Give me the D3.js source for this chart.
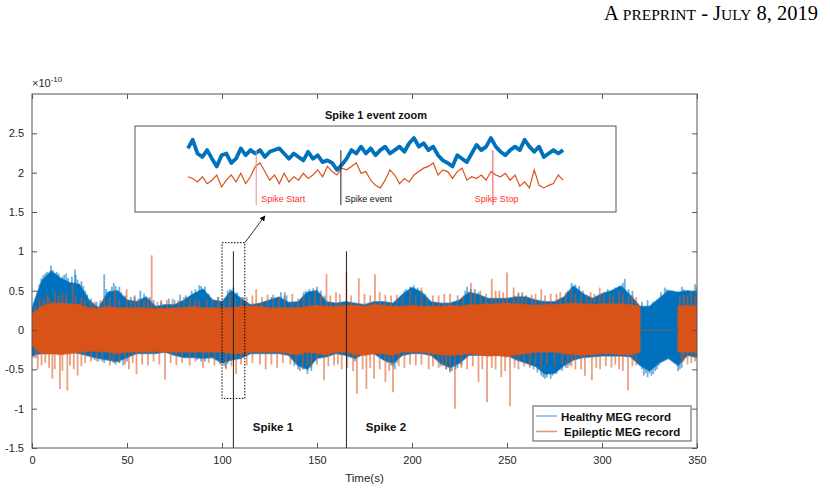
<!DOCTYPE html>
<html>
<head>
<meta charset="utf-8">
<script src="https://cdn.jsdelivr.net/npm/d3@7"></script>
<style>
body { margin: 0; background: #fff; }
text { font-family: "Liberation Sans", Arial, sans-serif; }
</style>
</head>
<body>
<svg id="plotSvg" width="830" height="490"></svg>
<script>
// ---- data (amplitudes in x1e-10) ----
const seriesNames = ["Healthy MEG record", "Epileptic MEG record"];

// envelope sampled every 5 s
const tGrid = [0,5,10,15,20,25,30,35,40,45,50,55,60,65,70,75,80,85,90,95,
    100,105,110,115,120,125,130,135,140,145,150,155,160,165,170,175,180,185,190,195,
    200,205,210,215,220,225,230,235,240,245,250,255,260,265,270,275,280,285,290,295,
    300,305,310,315,320,325,330,335,340,345,350];

const healthyHi = [0.28,0.62,0.75,0.66,0.6,0.58,0.38,0.28,0.48,0.5,
    0.38,0.36,0.42,0.3,0.32,0.32,0.38,0.46,0.52,0.38,
    0.36,0.5,0.4,0.32,0.34,0.38,0.42,0.35,0.36,0.48,
    0.5,0.36,0.34,0.36,0.34,0.32,0.36,0.36,0.34,0.45,
    0.54,0.48,0.36,0.34,0.34,0.38,0.48,0.45,0.4,0.4,
    0.4,0.42,0.42,0.38,0.36,0.36,0.42,0.56,0.46,0.4,
    0.46,0.5,0.56,0.44,0.3,0.3,0.4,0.5,0.48,0.5,
    0.48];
const healthyLo = [-0.32,-0.3,-0.3,-0.28,-0.28,-0.3,-0.33,-0.36,-0.38,-0.4,
    -0.35,-0.3,-0.3,-0.3,-0.28,-0.32,-0.35,-0.35,-0.36,-0.35,
    -0.42,-0.38,-0.36,-0.3,-0.3,-0.3,-0.3,-0.32,-0.45,-0.5,
    -0.36,-0.34,-0.3,-0.32,-0.36,-0.3,-0.3,-0.38,-0.42,-0.32,
    -0.3,-0.3,-0.32,-0.42,-0.48,-0.42,-0.32,-0.32,-0.32,-0.32,
    -0.32,-0.38,-0.42,-0.46,-0.56,-0.55,-0.45,-0.38,-0.35,-0.34,
    -0.33,-0.33,-0.33,-0.34,-0.45,-0.52,-0.42,-0.36,-0.45,-0.32,
    -0.35];
const epilepticHi = [0.2,0.3,0.34,0.34,0.33,0.32,0.28,0.27,0.3,0.28,
    0.28,0.28,0.28,0.27,0.27,0.28,0.28,0.3,0.28,0.28,
    0.28,0.28,0.3,0.3,0.3,0.28,0.28,0.28,0.28,0.3,
    0.31,0.3,0.3,0.31,0.31,0.3,0.32,0.31,0.3,0.3,
    0.31,0.3,0.3,0.3,0.31,0.3,0.32,0.32,0.33,0.33,
    0.34,0.33,0.32,0.31,0.32,0.32,0.33,0.34,0.33,0.32,
    0.33,0.33,0.33,0.32,0.3,null,null,null,0.3,0.31,
    0.3];
const epilepticLo = [-0.2,-0.3,-0.3,-0.31,-0.3,-0.28,-0.27,-0.27,-0.28,-0.3,
    -0.28,-0.28,-0.28,-0.27,-0.28,-0.28,-0.28,-0.28,-0.28,-0.28,
    -0.28,-0.3,-0.3,-0.28,-0.28,-0.28,-0.28,-0.3,-0.31,-0.28,
    -0.3,-0.31,-0.28,-0.28,-0.31,-0.32,-0.3,-0.3,-0.32,-0.28,
    -0.28,-0.28,-0.3,-0.31,-0.32,-0.31,-0.3,-0.31,-0.33,-0.32,
    -0.34,-0.31,-0.3,-0.28,-0.28,-0.28,-0.3,-0.31,-0.32,-0.31,
    -0.3,-0.3,-0.31,-0.31,-0.28,null,null,null,-0.28,-0.28,
    -0.28];
// epileptic channel is flat (0) between these times
const epilepticFlat = [320.7, 340.4];

// single excursions beyond the envelope: [time, amplitude]
const healthySpikes = [[3,0.5],[7,0.72],[10,0.82],[13,0.74],[17,0.7],[22.6,0.77],[26,0.62],[29,0.45],
    [38,0.71],[42,0.55],[46,0.55],[57,0.5],[62,0.42],[72,0.4],[78,0.45],[84,0.5],[88,0.57],[91,0.55],
    [104,0.52],[108,0.48],[127,0.45],[133,0.48],[144,0.5],[148,0.53],[152,0.5],[197,0.52],[201,0.57],
    [205,0.5],[229,0.55],[233,0.52],[256,0.46],[260,0.44],[284,0.6],[288,0.56],[303,0.52],[307,0.54],
    [312,0.65],[316,0.5],[333,0.54],[337,0.5],[342,0.55],[349,0.58],
    [2,0.35],[4,0.58],[5,0.66],[6,0.7],[8,0.74],[9,0.7],[11,0.76],[12,0.72],[14,0.72],[16,0.68],
    [18,0.72],[19,0.66],[21,0.68],[23,0.7],[24,0.64],[27,0.56],[28,0.5],[31,0.4],[34,0.36],[36,0.34],
    [39,0.52],[41,0.5],[43,0.6],[44,0.56],[47,0.48],[49,0.44],[52,0.42],[54,0.44],[59,0.46],[64,0.38],
    [68,0.36],[75,0.38],[81,0.44],[86,0.52],[89,0.56],[93,0.46],[98,0.42],[103,0.5],[106,0.54],[111,0.42],
    [126,0.42],[131,0.48],[134,0.44],[143,0.48],[146,0.52],[150,0.55],[154,0.44],[196,0.5],[199,0.55],
    [203,0.54],[207,0.46],[228,0.5],[231,0.52],[235,0.48],[254,0.44],[258,0.48],[282,0.5],[286,0.58],
    [290,0.5],[301,0.48],[305,0.5],[309,0.56],[311,0.6],[314,0.52],[321,0.36],[324,0.38],[327,0.36],
    [331,0.48],[334,0.52],[336,0.48],[339,0.46],[343,0.52],[346,0.5],[350,0.55],
    [1,-0.35],[33,-0.38],[37,-0.4],[43,-0.42],[48,-0.45],[89,-0.4],[101,-0.45],[103,-0.43],[140,-0.5],
    [145,-0.56],[170,-0.4],[189,-0.45],[192,-0.42],[217,-0.45],[221,-0.52],[224,-0.48],[264,-0.5],
    [268,-0.58],[271,-0.6],[274,-0.58],[278,-0.5],[283,-0.45],[323,-0.55],[326,-0.58],[329,-0.5],[341,-0.5],
    [0.5,-0.34],[2,-0.3],[32,-0.36],[35,-0.4],[38,-0.42],[41,-0.4],[44,-0.44],[46,-0.42],[50,-0.4],
    [87,-0.38],[91,-0.4],[99,-0.44],[102,-0.48],[138,-0.46],[141,-0.52],[143,-0.5],[147,-0.52],[187,-0.42],
    [190,-0.46],[191,-0.5],[215,-0.46],[218,-0.5],[220,-0.54],[223,-0.5],[226,-0.45],[262,-0.46],[266,-0.54],
    [269,-0.6],[270,-0.62],[272,-0.56],[273,-0.62],[276,-0.56],[279,-0.52],[281,-0.48],[321,-0.5],[322,-0.58],
    [324,-0.6],[325,-0.55],[327,-0.56],[328,-0.52],[330,-0.45],[340,-0.52],[342,-0.48]];
const epilepticSpikes = [[4,0.42],[8,0.45],[12,0.5],[16,0.48],[21.4,0.58],[26,0.42],[33,0.36],[38,0.4],
    [43.7,0.5],[49.8,0.52],[56,0.4],[63,0.95],[68,0.38],[74,0.4],[80,0.42],[86,0.4],[92,0.4],[98,0.42],
    [104,0.45],[110,0.42],[118,0.52],[124,0.45],[130,0.42],[137,0.46],[143,0.45],[149,0.5],[155,0.71],
    [160,0.48],[165.5,0.73],[172,0.66],[180.5,0.71],[186,0.45],[192,0.45],[199,0.5],[205,0.54],[211,0.44],
    [217,0.46],[224,0.44],[231,0.6],[236,0.5],[242,0.65],[246,0.5],[250,0.73],[253.5,0.54],[258,0.45],
    [263,0.45],[268,0.52],[273,0.46],[278,0.48],[283.8,0.52],[289,0.46],[294,0.48],[298.8,0.54],[304,0.46],
    [309,0.5],[314,0.44],[318,0.42],[343,0.45],[347,0.48],
    [1.5,0.3],[6,0.4],[9,0.42],[14,0.44],[18,0.46],[23,0.44],[28,0.38],[31,0.36],[36,0.38],[41,0.42],
    [46,0.4],[52,0.38],[54,0.42],[59,0.38],[61,0.4],[66,0.36],[71,0.38],[77,0.38],[83,0.4],[88,0.38],
    [95,0.4],[101,0.38],[107,0.4],[113,0.42],[116,0.44],[121,0.42],[127,0.4],[133,0.44],[140,0.4],[146,0.42],
    [152,0.46],[157,0.44],[162,0.46],[168,0.44],[175,0.46],[178,0.44],[183,0.48],[189,0.44],[195,0.42],
    [202,0.44],[208,0.42],[214,0.44],[220,0.46],[227,0.44],[233,0.48],[239,0.46],[244,0.5],[248,0.48],
    [256,0.48],[260,0.44],[265,0.46],[270,0.44],[276,0.46],[281,0.48],[286,0.46],[292,0.44],[296,0.46],
    [301,0.46],[306,0.44],[311,0.46],[316,0.44],[341,0.42],[345,0.44],[349,0.42],
    [3,-0.5],[5,-0.45],[10.7,-0.62],[14.7,-0.75],[18.6,-0.77],[24,-0.58],[28,-0.42],[34,-0.4],[41,-0.45],
    [46,-0.42],[51,-0.5],[55,-0.56],[61,-0.45],[70,-0.63],[76,-0.45],[83,-0.45],[90,-0.48],[96,-0.45],
    [102,-0.5],[107.4,-0.56],[113,-0.45],[123,-0.5],[129,-0.48],[136,-0.44],[142.5,-0.5],[147,-0.48],
    [153.7,-0.64],[159,-0.45],[163,-0.5],[171,-0.81],[176,-0.75],[180,-0.62],[186,-0.66],[190,-0.79],
    [196,-0.48],[202,-0.45],[208.8,-0.5],[214,-0.48],[218,-0.5],[222.6,-1.0],[229,-0.5],[235,-0.66],
    [239.5,-0.92],[244,-0.5],[247,-0.6],[251.6,-0.97],[256,-0.5],[262,-0.48],[268,-0.5],[275,-0.46],
    [282,-0.48],[286,-0.5],[291,-0.58],[294.7,-0.64],[299,-0.5],[305,-0.48],[309,-0.5],[313.7,-0.77],
    [318,-0.45],[343,-0.4],[347,-0.42],
    [2,-0.36],[7,-0.42],[9,-0.48],[12,-0.5],[16,-0.52],[20,-0.45],[22,-0.5],[26,-0.46],[31,-0.4],[37,-0.38],
    [43,-0.42],[49,-0.44],[53,-0.42],[58,-0.44],[64,-0.4],[67,-0.44],[73,-0.42],[79,-0.42],[86,-0.4],
    [93,-0.42],[99,-0.42],[105,-0.46],[110,-0.44],[116,-0.42],[120,-0.44],[126,-0.44],[132,-0.42],[139,-0.44],
    [145,-0.46],[150,-0.44],[156,-0.46],[161,-0.44],[166,-0.48],[169,-0.52],[174,-0.5],[178,-0.48],[183,-0.5],
    [188,-0.52],[193,-0.46],[199,-0.44],[205,-0.44],[211,-0.46],[216,-0.46],[220,-0.52],[226,-0.48],[232,-0.46],
    [237,-0.5],[242,-0.48],[249,-0.52],[254,-0.48],[259,-0.46],[265,-0.44],[271,-0.42],[279,-0.44],[284,-0.46],
    [289,-0.5],[297,-0.48],[302,-0.46],[307,-0.44],[311,-0.52],[316,-0.46],[342,-0.4],[345,-0.44],[349,-0.4]];

// marked spike events (s), line drawn from -1.5 up to 1
const spikeTimes = [106, 165.5];
const spikeLabels = ["Spike 1", "Spike 2"];
const zoomWindow = { t0: 100, t1: 112, lo: -0.87, hi: 1.11 };

const xTicks = [0, 50, 100, 150, 200, 250, 300, 350];
const yTicks = [-1.5, -1, -0.5, 0, 0.5, 1, 1.5, 2, 2.5];

// zoom inset: samples 11..89 on a 0..100 grid, arbitrary offsets
const insetStart = 11;
const insetHealthy = [74,84,68,64,72,62,53,66,68,57,62,74,66,72,68,72,64,70,72,74,
    68,62,68,64,60,70,62,66,58,60,57,49,55,62,72,68,76,68,74,66,
    72,76,68,72,76,70,80,86,76,80,72,76,66,60,57,53,66,62,58,68,
    78,72,76,86,76,70,66,72,76,72,84,76,70,76,64,68,72,68,72];
const insetEpileptic = [41,39,35,41,33,37,43,29,37,43,35,45,33,41,53,57,47,37,43,33,
    45,35,41,37,45,39,43,49,41,53,47,43,51,49,53,57,45,47,37,31,
    28,37,49,43,33,39,35,43,47,51,53,57,43,49,47,39,47,51,37,41,
    39,43,37,47,43,41,45,37,43,30,35,28,49,31,28,31,33,43,37];
const insetMarkIdx = [25.2, 42.8, 74.4];
const insetMarkLabels = ["Spike Start", "Spike event", "Spike Stop"];

// ---- drawing ----
const blue = "#0072BD", orange = "#D95319";
const margin = { top: 94, right: 133, bottom: 42, left: 32 },
    width = 830 - margin.left - margin.right,
    height = 490 - margin.top - margin.bottom;

const svg = d3.select("#plotSvg");

// running header, small caps done by hand
const header = svg.append("text")
    .attr("x", 818).attr("y", 20)
    .attr("text-anchor", "end")
    .style("font-family", "'Liberation Serif', 'Times New Roman', serif")
    .style("fill", "#000");
[["A", 20.5], [" PREPRINT", 15.5], [" - J", 20.5], ["ULY", 15.5], [" 8, 2019", 20.5]].forEach(p => {
    header.append("tspan").style("font-size", p[1] + "px").text(p[0]);
});

const g = svg.append("g")
    .attr("transform", `translate(${margin.left},${margin.top})`);

const x = d3.scaleLinear().domain([0, 350]).range([0, width]);
const y = d3.scaleLinear().domain([-1.5, 3]).range([height, 0]);

g.append("clipPath").attr("id", "clip")
    .append("rect").attr("width", width).attr("height", height);
const plot = g.append("g").attr("clip-path", "url(#clip)");

function drawSeries(hi, lo, spikes, color) {
    const rows = tGrid.map((t, i) => ({ t: t, hi: hi[i], lo: lo[i] }));
    const area = d3.area()
        .defined(d => d.hi != null)
        .x(d => x(d.t))
        .y0(d => y(d.lo))
        .y1(d => y(d.hi));
    plot.append("g")
        .selectAll("line")
        .data(spikes)
        .join("line")
        .attr("x1", d => x(d[0])).attr("x2", d => x(d[0]))
        .attr("y1", y(0)).attr("y2", d => y(d[1]))
        .attr("stroke", color)
        .attr("stroke-opacity", 0.55)
        .attr("stroke-width", 1.8);
    plot.append("path")
        .datum(rows)
        .attr("d", area)
        .attr("fill", color)
        .attr("stroke", color)
        .attr("stroke-opacity", 0.6)
        .attr("stroke-width", 1.5);
}

drawSeries(healthyHi, healthyLo, healthySpikes, blue);
drawSeries(epilepticHi, epilepticLo, epilepticSpikes, orange);

plot.append("line")
    .attr("x1", x(epilepticFlat[0])).attr("x2", x(epilepticFlat[1]))
    .attr("y1", y(0)).attr("y2", y(0))
    .attr("stroke", "#6c5f66").attr("stroke-width", 1.2);

// spike markers
g.selectAll(".spike")
    .data(spikeTimes)
    .join("line")
    .attr("x1", d => x(d)).attr("x2", d => x(d))
    .attr("y1", y(-1.5)).attr("y2", y(1))
    .attr("stroke", "#222").attr("stroke-width", 1);

g.selectAll(".spikeLabel")
    .data(spikeTimes)
    .join("text")
    .attr("x", d => x(d + 10.2))
    .attr("y", y(-1.28))
    .style("font-size", "11.5px")
    .style("font-weight", "bold")
    .style("fill", "#111")
    .text((d, i) => spikeLabels[i]);

// zoom window and arrow
g.append("rect")
    .attr("x", x(zoomWindow.t0)).attr("y", y(zoomWindow.hi))
    .attr("width", x(zoomWindow.t1) - x(zoomWindow.t0))
    .attr("height", y(zoomWindow.lo) - y(zoomWindow.hi))
    .attr("fill", "none").attr("stroke", "#000")
    .attr("stroke-width", 1).attr("stroke-dasharray", "1.5,1.5");

svg.append("defs").append("marker")
    .attr("id", "arrowHead")
    .attr("viewBox", "0 0 10 10").attr("refX", 9).attr("refY", 5)
    .attr("markerWidth", 7).attr("markerHeight", 7)
    .attr("orient", "auto")
    .append("path").attr("d", "M0,0L10,5L0,10z").attr("fill", "#000");

g.append("line")
    .attr("x1", x(zoomWindow.t1)).attr("y1", y(zoomWindow.hi))
    .attr("x2", x(122.6)).attr("y2", y(1.45))
    .attr("stroke", "#000").attr("stroke-width", 0.8)
    .attr("marker-end", "url(#arrowHead)");

// axes box with inward ticks
const axisColor = "#555";
g.append("rect")
    .attr("width", width).attr("height", height)
    .attr("fill", "none").attr("stroke", axisColor).attr("stroke-width", 1);

const xAxis = g.append("g")
    .attr("transform", `translate(0,${height})`)
    .call(d3.axisBottom(x).tickValues(xTicks).tickSize(-5).tickPadding(8).tickFormat(d3.format("d")));
const xAxisTop = g.append("g")
    .call(d3.axisTop(x).tickValues(xTicks).tickSize(-5).tickFormat(""));
const yAxis = g.append("g")
    .call(d3.axisLeft(y).tickValues(yTicks).tickSize(-5).tickPadding(8).tickFormat(d => d));
const yAxisRight = g.append("g")
    .attr("transform", `translate(${width},0)`)
    .call(d3.axisRight(y).tickValues(yTicks).tickSize(-5).tickFormat(""));

[xAxis, xAxisTop, yAxis, yAxisRight].forEach(a => {
    a.select(".domain").remove();
    a.selectAll(".tick line").attr("stroke", axisColor);
    a.selectAll("text")
        .style("font-family", "'Liberation Sans', Arial, sans-serif")
        .style("font-size", "11px")
        .style("fill", "#262626");
});

g.append("text")
    .attr("x", width / 2).attr("y", height + 34)
    .attr("text-anchor", "middle")
    .style("font-size", "11.5px").style("fill", "#262626")
    .text("Time(s)");

const expo = g.append("text")
    .attr("x", 0).attr("y", -7)
    .style("font-size", "11px").style("fill", "#262626");
expo.append("tspan").text("\u00d710");
expo.append("tspan").attr("dy", -5).style("font-size", "8px").text("-10");

// legend
const legend = svg.append("g").attr("transform", "translate(533,406)");
legend.append("rect")
    .attr("width", 158).attr("height", 35)
    .attr("fill", "#fff").attr("stroke", "#555").attr("stroke-width", 1);
const legendColors = ["#7db5e0", "#e8906a"];
seriesNames.forEach((name, i) => {
    legend.append("line")
        .attr("x1", 3).attr("x2", 24)
        .attr("y1", 10 + i * 15.5).attr("y2", 10 + i * 15.5)
        .attr("stroke", legendColors[i]).attr("stroke-width", 1.5);
    legend.append("text")
        .attr("x", i === 0 ? 28 : 31).attr("y", 14.5 + i * 15.5)
        .style("font-size", "11.5px").style("font-weight", "bold").style("fill", "#111")
        .text(name);
});

// inset "Spike 1 event zoom"
const xIn = d3.scaleLinear().domain([0, 100]).range([135, 616]);
const yIn = d3.scaleLinear().domain([0, 100]).range([212, 126]);
const inset = svg.append("g");
inset.append("rect")
    .attr("x", 135).attr("y", 126)
    .attr("width", 481).attr("height", 86)
    .attr("fill", "#fff").attr("stroke", "#555").attr("stroke-width", 1);
inset.append("text")
    .attr("x", 376).attr("y", 119)
    .attr("text-anchor", "middle")
    .style("font-size", "11px").style("font-weight", "bold").style("fill", "#111")
    .text("Spike 1 event zoom");

const inLine = d3.line()
    .x((d, i) => xIn(insetStart + i))
    .y(d => yIn(d));

inset.append("path")
    .datum(insetEpileptic)
    .attr("d", inLine)
    .attr("fill", "none").attr("stroke", orange).attr("stroke-width", 1.2);
inset.append("path")
    .datum(insetHealthy)
    .attr("d", inLine)
    .attr("fill", "none").attr("stroke", blue).attr("stroke-width", 3.8)
    .attr("stroke-linejoin", "round");

const markLine = ["#f38a8a", "#222", "#f05050"];
const markText = ["#ff3030", "#111", "#ff3030"];
const markDx = [5, 4, -18];
insetMarkIdx.forEach((m, i) => {
    inset.append("line")
        .attr("x1", xIn(m)).attr("x2", xIn(m))
        .attr("y1", yIn(72)).attr("y2", yIn(8))
        .attr("stroke", markLine[i]).attr("stroke-width", 1);
    inset.append("text")
        .attr("x", xIn(m) + markDx[i]).attr("y", yIn(11.5))
        .style("font-size", "9px").style("fill", markText[i])
        .text(insetMarkLabels[i]);
});
</script>
</body>
</html>
